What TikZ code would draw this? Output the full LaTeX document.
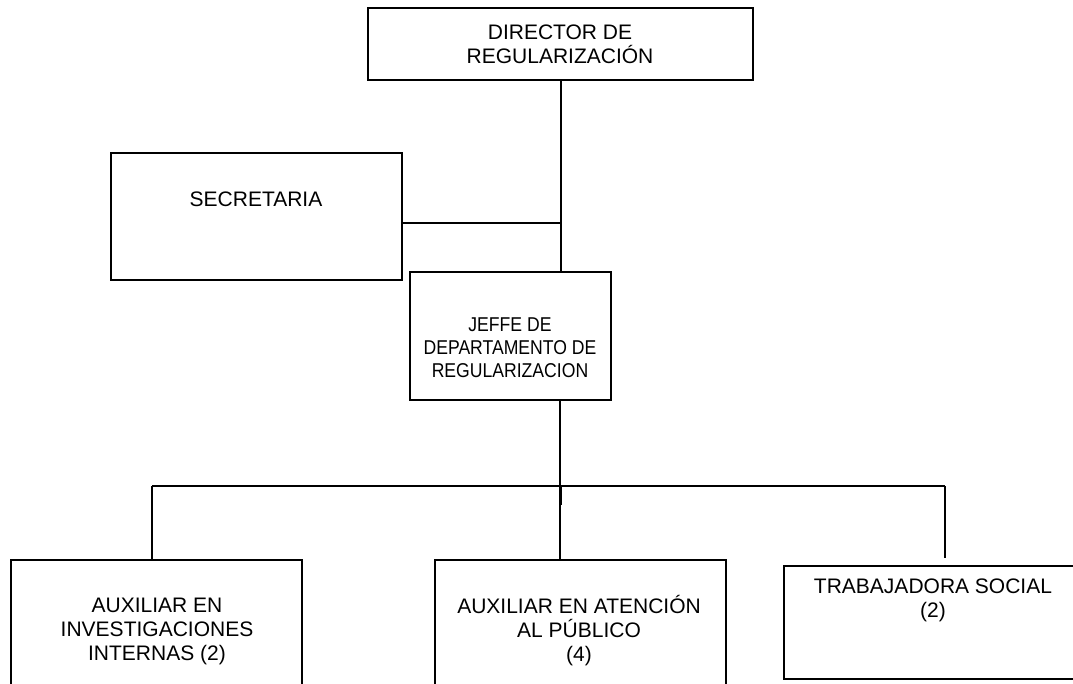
\documentclass[tikz,border=0pt]{standalone}
\usepackage{fontspec}
\setmainfont{Liberation Sans}
\newfontfamily\narrowsans[FakeStretch=0.88]{Liberation Sans}
\begin{document}
\begin{tikzpicture}[x=1pt,y=-1pt,
  box/.style={draw=black,line width=2pt,rectangle,inner sep=0pt,anchor=north west},
  lbl/.style={align=center,inner sep=0pt,font=\fontsize{21}{24}\selectfont},
  lblsm/.style={lbl,font=\narrowsans\fontsize{20}{23}\selectfont},
  link/.style={draw=black,line width=2pt}]
\useasboundingbox (0,0) rectangle (1073,683);
\clip (0,0) rectangle (1073,683);
\fill[white] (0,0) rectangle (1073,683);

% boxes
\node[box,minimum width=385pt,minimum height=72pt] (dir) at (367,7) {};
\node[box,minimum width=291pt,minimum height=127pt] (sec) at (110,152) {};
\node[box,minimum width=201pt,minimum height=128pt] (jefe) at (409,271) {};
\node[box,minimum width=291pt,minimum height=140pt] (aux1) at (10,559) {};
\node[box,minimum width=291pt,minimum height=140pt] (aux2) at (434,559) {};
\node[box,minimum width=300pt,minimum height=113pt] (trab) at (783,565) {};

% labels
\node[lbl] (tdir) at (560,44) {DIRECTOR DE\\REGULARIZACIÓN};
\node[lbl] (tsec) at (256,199) {SECRETARIA};
\node[lblsm] (tjefe) at (510,348) {JEFFE DE\\DEPARTAMENTO DE\\REGULARIZACION};
\node[lbl] (taux1) at (157,631) {AUXILIAR EN\\INVESTIGACIONES\\INTERNAS (2)};
\node[lbl] (taux2) at (579,631) {AUXILIAR EN ATENCIÓN\\AL PÚBLICO\\(4)};
\node[lbl] (ttrab) at (933,600) {TRABAJADORA SOCIAL\\(2)};

% junction points
\coordinate (secj) at (561,223);
\coordinate (bus) at (560,486);
\coordinate (busL) at (152,486);
\coordinate (busR) at (945,486);

% connectors
\draw[link] (dir.south) -- (dir.south |- jefe.north);
\draw[link] (sec.east |- secj) -- (secj);
\draw[link] (bus |- jefe.south) -- (bus);
\draw[link] (busL) -- (busR);
\draw[link] (busL) -- (busL |- aux1.north);
\draw[link] (bus) -- (bus |- aux2.north);
\draw[link,line width=3pt] (bus) -- ++(0,19);
\draw[link] (busR) -- ++(0,72);
\end{tikzpicture}
\end{document}
